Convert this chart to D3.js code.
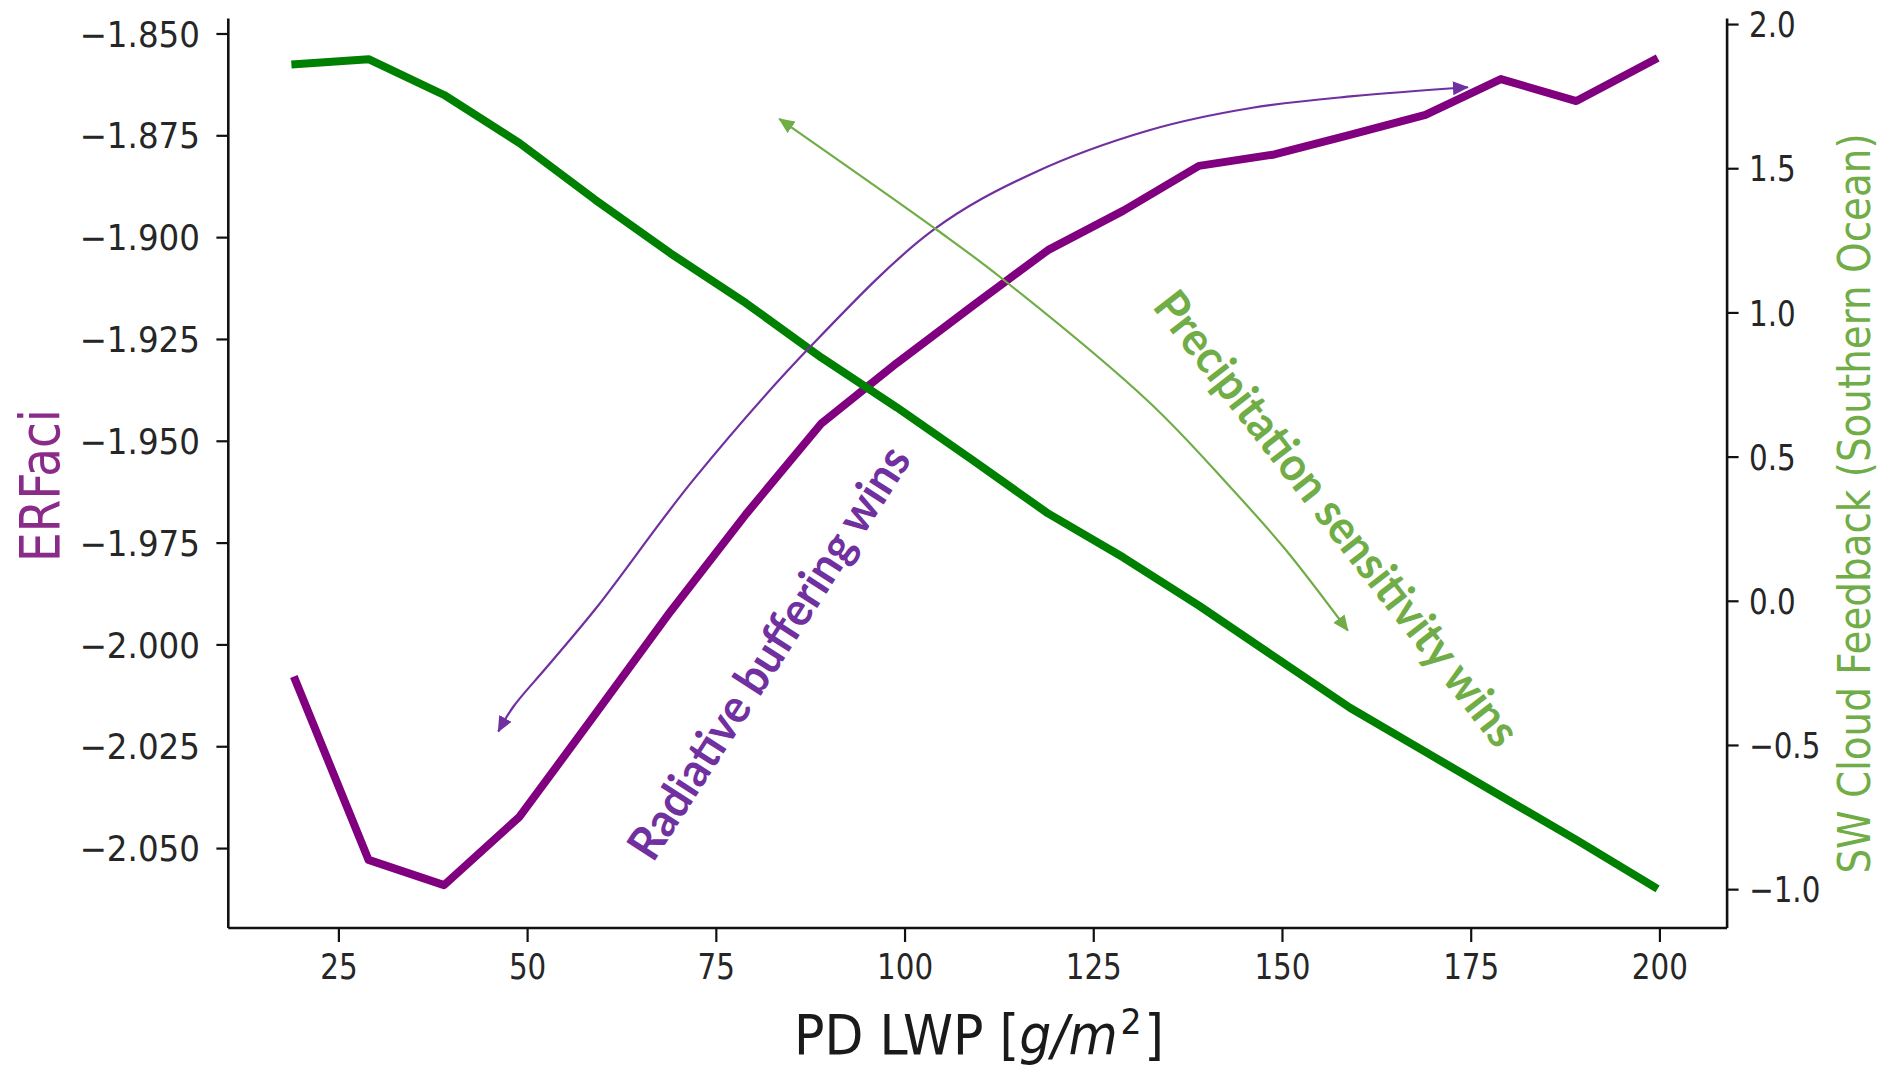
<!DOCTYPE html>
<html>
<head>
<meta charset="utf-8">
<script src="https://cdn.jsdelivr.net/npm/d3@7"></script>
<style>
  html, body { margin: 0; padding: 0; background: #ffffff; }
  svg { display: block; }
</style>
</head>
<body>
<svg id="chart" width="1885" height="1067"></svg>
<script>
// ---- data -------------------------------------------------------------
const lwp = [19.3, 29, 39, 49, 59, 69, 79, 89, 99, 109, 119, 129, 139, 149, 159, 169, 179, 189, 199.3];
const erfaci = [-2.0088, -2.0529, -2.0591, -2.0423, -2.0172, -1.9919, -1.9680, -1.9457, -1.9309, -1.9169,
                -1.9032, -1.8935, -1.8825, -1.8797, -1.8749, -1.8700, -1.8612, -1.8666, -1.8565];
const swFeedback = [1.861, 1.878, 1.754, 1.587, 1.391, 1.205, 1.032, 0.843, 0.670, 0.488,
                    0.303, 0.150, -0.017, -0.194, -0.371, -0.524, -0.677, -0.829, -0.992];

const xTicks = [25, 50, 75, 100, 125, 150, 175, 200];
const leftTicks = [-1.850, -1.875, -1.900, -1.925, -1.950, -1.975, -2.000, -2.025, -2.050];
const rightTicks = [2.0, 1.5, 1.0, 0.5, 0.0, -0.5, -1.0];

// guide arrows, in data units (x = LWP, y = ERFaci / SW feedback)
const bufferingArrowX = [46.18, 48.17, 52.64, 59.26, 72.02, 87.47, 103.77, 117.02, 132.52, 145.9, 159.41, 174.63];
const bufferingArrowY = [-2.0214, -2.0153, -2.0055, -1.9908, -1.9596, -1.9270, -1.8983, -1.8843, -1.8737, -1.8683, -1.8654, -1.8632];
const precipArrowX = [83.40, 104.31, 112.65, 132.52, 143.26, 150.41, 158.73];
const precipArrowY = [1.6715, 1.2858, 1.1228, 0.6858, 0.3910, 0.1794, -0.1037];

// ---- layout -------------------------------------------------------------
const svg = d3.select("#chart");
const plot = { left: 227.8, right: 1726.6, top: 18, bottom: 927.5 };
const tickFont = "DejaVu Sans";
const squeeze = 0.84;           // narrow rendering of the tick lettering
const squeezeLeft = 0.93;
const inkColor = "#262626";

const x = d3.scaleLinear().domain([10.35, 208.9]).range([plot.left, plot.right]);
const yL = d3.scaleLinear().domain([-2.0695, -1.8462]).range([plot.bottom, plot.top]);
const yR = d3.scaleLinear().domain([-1.133, 2.021]).range([plot.bottom, plot.top]);

// ---- data lines ----------------------------------------------------------
const erfLine = d3.line().x((d, i) => x(lwp[i])).y(d => yL(d));
const swLine = d3.line().x((d, i) => x(lwp[i])).y(d => yR(d));

svg.append("path")
  .attr("d", erfLine(erfaci))
  .attr("fill", "none")
  .attr("stroke", "#800080")
  .attr("stroke-width", 8)
  .attr("stroke-linejoin", "round")
  .attr("stroke-linecap", "square");

svg.append("path")
  .attr("d", swLine(swFeedback))
  .attr("fill", "none")
  .attr("stroke", "#008000")
  .attr("stroke-width", 8)
  .attr("stroke-linejoin", "round")
  .attr("stroke-linecap", "square");

// ---- axes -----------------------------------------------------------------
function styleAxis(g) {
  g.attr("font-family", tickFont).attr("font-size", 35);
  g.select(".domain").attr("stroke", "#111").attr("stroke-width", 2.6);
  g.selectAll(".tick line").attr("stroke", "#111").attr("stroke-width", 2.2);
  g.selectAll(".tick text").attr("fill", inkColor);
}

const gBottom = svg.append("g")
  .attr("transform", `translate(0,${plot.bottom})`)
  .call(d3.axisBottom(x).tickValues(xTicks).tickFormat(d3.format("d"))
        .tickSize(14.5).tickSizeOuter(0).tickPadding(12));
styleAxis(gBottom);
gBottom.selectAll(".tick text").attr("transform", `scale(${squeeze},1)`);

const gLeft = svg.append("g")
  .attr("transform", `translate(${plot.left},0)`)
  .call(d3.axisLeft(yL).tickValues(leftTicks).tickFormat(d3.format(".3f"))
        .tickSize(11.4).tickSizeOuter(0));
styleAxis(gLeft);
gLeft.selectAll(".tick text")
  .attr("x", 0).attr("dy", "0.36em")
  .attr("transform", `translate(-27.8,0) scale(${squeezeLeft},1)`);

const gRight = svg.append("g")
  .attr("transform", `translate(${plot.right},0)`)
  .call(d3.axisRight(yR).tickValues(rightTicks).tickFormat(d3.format(".1f"))
        .tickSize(12).tickSizeOuter(0));
styleAxis(gRight);
gRight.selectAll(".tick text")
  .attr("x", 0).attr("dy", "0.36em")
  .attr("transform", `translate(22.4,0) scale(${squeeze},1)`);

// ---- axis titles -------------------------------------------------------------
function title(px, py, rot, sx, size, color, text) {
  return svg.append("text")
    .attr("transform", `translate(${px},${py}) rotate(${rot}) scale(${sx},1)`)
    .attr("text-anchor", "middle")
    .attr("font-family", tickFont)
    .attr("font-size", size)
    .attr("fill", color)
    .text(text);
}

title(59.2, 485.5, -90, 0.84, 56, "#8a2b8a", "ERFaci");
title(1869.5, 503.5, -90, 0.87, 44.7, "#70AD47", "SW Cloud Feedback (Southern Ocean)");

const xTitle = svg.append("text")
  .attr("transform", `translate(979,1053.8) scale(0.92,1)`)
  .attr("text-anchor", "middle")
  .attr("font-family", tickFont)
  .attr("font-size", 55)
  .attr("fill", "#1a1a1a");
xTitle.append("tspan").text("PD LWP [");
xTitle.append("tspan").attr("font-style", "italic").text("g/m");
xTitle.append("tspan").attr("font-size", 36).attr("dy", -20).attr("dx", 3).text("2");
xTitle.append("tspan").attr("dy", 20).attr("dx", 3).text("]");

// ---- guide arrows ----------------------------------------------------------
const defs = svg.append("defs");
function arrowHead(id, color) {
  defs.append("marker")
    .attr("id", id)
    .attr("markerUnits", "userSpaceOnUse")
    .attr("viewBox", "0 0 16 14")
    .attr("markerWidth", 16).attr("markerHeight", 14)
    .attr("refX", 15).attr("refY", 7)
    .attr("orient", "auto-start-reverse")
    .append("path")
    .attr("d", "M0,0 L16,7 L0,14 Z")
    .attr("fill", color);
}
arrowHead("headPurple", "#7030A0");
arrowHead("headGreen", "#70AD47");

const guide = d3.line().curve(d3.curveCatmullRom.alpha(0.5));

svg.append("path")
  .attr("d", guide(bufferingArrowX.map((v, i) => [x(v), yL(bufferingArrowY[i])])))
  .attr("fill", "none")
  .attr("stroke", "#7030A0")
  .attr("stroke-width", 2.2)
  .attr("marker-start", "url(#headPurple)")
  .attr("marker-end", "url(#headPurple)");

svg.append("path")
  .attr("d", guide(precipArrowX.map((v, i) => [x(v), yR(precipArrowY[i])])))
  .attr("fill", "none")
  .attr("stroke", "#70AD47")
  .attr("stroke-width", 2.2)
  .attr("marker-start", "url(#headGreen)")
  .attr("marker-end", "url(#headGreen)");

// ---- annotations ----------------------------------------------------------
function note(px, py, rot, len, color, text) {
  svg.append("text")
    .attr("transform", `translate(${px},${py}) rotate(${rot})`)
    .attr("text-anchor", "middle")
    .attr("font-family", "Lato, 'Open Sans', sans-serif")
    .attr("font-weight", 700)
    .attr("font-size", 47)
    .attr("fill", color)
    .attr("textLength", len)
    .attr("lengthAdjust", "spacingAndGlyphs")
    .text(text);
}

note(x(83.86), yL(-2.0042), -57.3, 480, "#7030A0", "Radiative buffering wins");
note(x(155.58), yR(0.2508), 52.1, 562, "#70AD47", "Precipitation sensitivity wins");
</script>
</body>
</html>
